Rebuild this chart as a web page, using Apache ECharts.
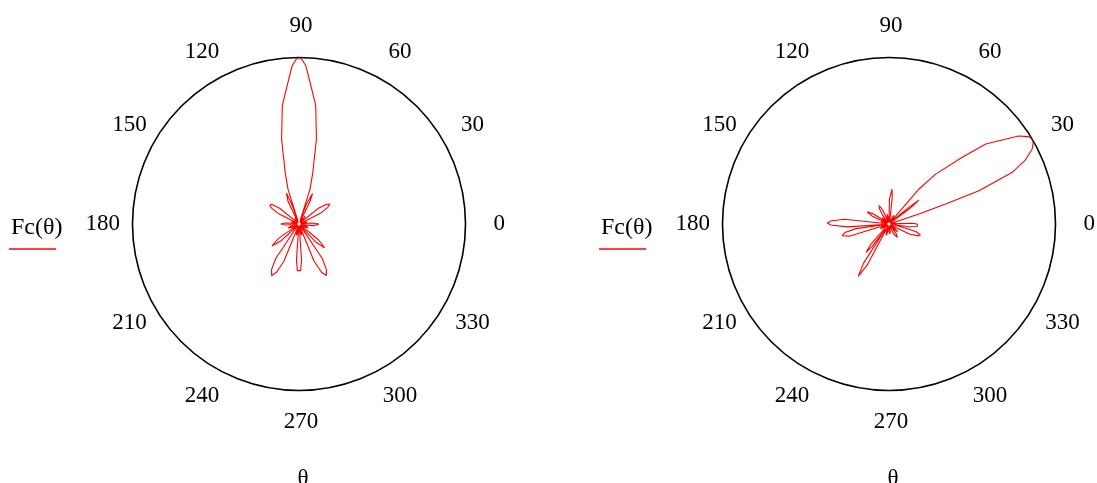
<!DOCTYPE html>
<html>
<head>
<meta charset="utf-8">
<script src="https://cdn.jsdelivr.net/npm/echarts@6/dist/echarts.min.js"></script>
<style>
html,body{margin:0;padding:0;background:#fff;}
#chart{width:1097px;height:483px;}
</style>
</head>
<body>
<div id="chart"></div>
<script>
// Tick angles and labels of the angular axis
const tickAngles = [0, 30, 60, 90, 120, 150, 180, 210, 240, 270, 300, 330];
const tickLabels = ['0', '30', '60', '90', '120', '150', '180', '210', '240', '270', '300', '330'];

// Left pattern: angle (deg) and normalised Fc value
const leftAngles = [0, 4, 7, 11, 14, 17, 20, 27, 30, 33, 36, 39, 42, 49, 52, 55, 60, 64, 66, 68, 70, 71.5,
  72.5, 75, 78.4, 82, 85, 87.5, 89, 90, 91, 92.5, 95, 98, 101.6, 105, 107.5, 108.5,
  110, 112, 114, 116, 120, 125, 128, 131, 138, 141, 144, 147, 150, 153, 156, 162, 165, 168, 173,
  176, 180, 184, 188, 196, 200, 204, 210, 215, 219, 223, 229, 236, 239, 242, 245, 248, 251,
  254, 257, 260, 263, 266, 268, 270, 272, 274, 277, 280, 283, 286, 289, 292, 295, 298, 301, 304, 307,
  313, 317, 321, 327, 334, 338, 342, 348, 353, 356, 360];
const leftValues = [0.12, 0.08, 0.01, 0.035, 0.05, 0.035, 0.01, 0.15, 0.2, 0.22, 0.2, 0.15, 0.01, 0.045, 0.06, 0.045, 0.01, 0.15, 0.2, 0.2, 0.12, 0.02,
  0.22, 0.32, 0.52, 0.72, 0.83, 0.95, 0.99, 1.0, 0.99, 0.95, 0.83, 0.72, 0.52, 0.32, 0.22, 0.02,
  0.12, 0.2, 0.2, 0.15, 0.01, 0.045, 0.06, 0.045, 0.01, 0.15, 0.2, 0.21, 0.19, 0.14, 0.01, 0.035, 0.05, 0.035, 0.01,
  0.08, 0.11, 0.08, 0.01, 0.05, 0.07, 0.05, 0.01, 0.15, 0.21, 0.15, 0.01, 0.25, 0.32, 0.35, 0.32, 0.24, 0.01,
  0.05, 0.07, 0.05, 0.01, 0.22, 0.28, 0.29, 0.28, 0.22, 0.01, 0.05, 0.07, 0.05, 0.01, 0.24, 0.32, 0.35, 0.32, 0.25, 0.01,
  0.15, 0.21, 0.15, 0.01, 0.045, 0.06, 0.045, 0.01, 0.08, 0.1, 0.12];

// Right pattern: angle (deg) and normalised Fc value
const rightAngles = [0, 2, 5, 10, 12, 14, 17, 18.4, 19.4, 20.3, 22.7, 25, 27.6, 29.5, 30.7, 32, 34.2, 39.6, 42.3, 46.9, 49.4, 52,
  40, 38.5, 37, 39, 56, 60, 64, 68, 81, 83, 85, 87, 89, 91, 97, 101, 105, 110, 114, 118, 122, 126, 130,
  134, 137, 140, 144, 147, 151, 155, 159, 163, 166, 169, 172, 174, 177, 179, 181, 184, 187, 188, 191, 194, 197, 200,
  206, 209, 212, 217, 226, 228, 231, 233, 235, 237, 239.5, 242, 245, 252, 256, 260, 265, 271, 275, 279, 285,
  296, 302, 307, 312, 315, 318, 321, 326, 334, 338, 341, 344, 347, 349, 352, 355, 357, 360];
const rightValues = [0.17, 0.14, 0.01, 0.04, 0.05, 0.03, 0.01, 0.19, 0.36, 0.576, 0.8, 0.9, 0.97, 0.995, 1.0, 0.99, 0.94, 0.754, 0.595, 0.41, 0.277, 0.01,
  0.16, 0.23, 0.16, 0.01, 0.04, 0.06, 0.04, 0.01, 0.01, 0.16, 0.21, 0.21, 0.15, 0.01, 0.04, 0.06, 0.04, 0.01, 0.09, 0.125, 0.11, 0.06, 0.01,
  0.04, 0.055, 0.04, 0.01, 0.11, 0.15, 0.11, 0.01, 0.035, 0.05, 0.035, 0.01, 0.27, 0.35, 0.37, 0.35, 0.25, 0.01, 0.2, 0.27, 0.29, 0.25, 0.01,
  0.045, 0.06, 0.045, 0.01, 0.01, 0.16, 0.22, 0.17, 0.04, 0.28, 0.365, 0.28, 0.01, 0.05, 0.07, 0.05, 0.01, 0.045, 0.06, 0.045, 0.01,
  0.07, 0.095, 0.07, 0.01, 0.05, 0.07, 0.05, 0.01, 0.14, 0.19, 0.2, 0.17, 0.08, 0.01, 0.12, 0.17, 0.18, 0.17];

const seriesName = 'Fc(θ)';
const axisName = 'θ';

const FONT = 'Liberation Serif';
const FS = 23;
const R = 166.5;
const LABEL_R = 1.19;
const centers = [[299, 224], [889, 224]];

function angleAxis(i) {
  return {
    polarIndex: i, type: 'value', min: 0, max: 360, interval: 30,
    startAngle: 0, clockwise: false,
    axisLine: { show: true, lineStyle: { color: '#000', width: 1.6 } },
    axisTick: { show: false }, axisLabel: { show: false }, splitLine: { show: false }
  };
}
function radiusAxis(i) {
  return {
    polarIndex: i, type: 'value', min: 0, max: 1,
    axisLine: { show: false }, axisTick: { show: false }, axisLabel: { show: false }, splitLine: { show: false }
  };
}
function labelSeries(i) {
  return {
    type: 'scatter', coordinateSystem: 'polar', polarIndex: i, silent: true, clip: false,
    symbol: 'circle', symbolSize: 1, itemStyle: { color: 'rgba(255,255,255,0)' },
    data: tickAngles.map(a => [LABEL_R, a]),
    label: {
      show: true, position: 'inside', offset: [2, 0],
      formatter: p => tickLabels[p.dataIndex],
      fontFamily: FONT, fontSize: FS, color: '#000000',
      textBorderWidth: 0, textBorderColor: 'transparent', opacity: 1
    }
  };
}
function patternSeries(i, angles, values) {
  return {
    name: seriesName, type: 'line', coordinateSystem: 'polar', polarIndex: i,
    symbol: 'none', smooth: false, clip: false, silent: true,
    lineStyle: { color: '#ff0000', width: 1.1 },
    data: angles.map((a, k) => [values[k], a])
  };
}
function legendGraphics(x0) {
  return [
    { type: 'text', left: x0 + 2, top: 216, style: { text: seriesName, fontFamily: FONT, fontSize: FS + 1, fill: '#000' } },
    { type: 'line', shape: { x1: x0, y1: 249, x2: x0 + 47, y2: 249 }, style: { stroke: '#ff0000', lineWidth: 1.5 } }
  ];
}

const chart = echarts.init(document.getElementById('chart'), null, { renderer: 'canvas' });
chart.setOption({
  animation: false,
  backgroundColor: '#fff',
  polar: centers.map(c => ({ center: c, radius: R })),
  angleAxis: [angleAxis(0), angleAxis(1)],
  radiusAxis: [radiusAxis(0), radiusAxis(1)],
  series: [
    patternSeries(0, leftAngles, leftValues),
    patternSeries(1, rightAngles, rightValues),
    labelSeries(0), labelSeries(1)
  ],
  graphic: [
    ...legendGraphics(9),
    ...legendGraphics(599),
    { type: 'text', x: 303, y: 467, style: { text: axisName, fontFamily: FONT, fontSize: FS, fill: '#000', align: 'center' } },
    { type: 'text', x: 893, y: 467, style: { text: axisName, fontFamily: FONT, fontSize: FS, fill: '#000', align: 'center' } }
  ]
});
</script>
</body>
</html>
